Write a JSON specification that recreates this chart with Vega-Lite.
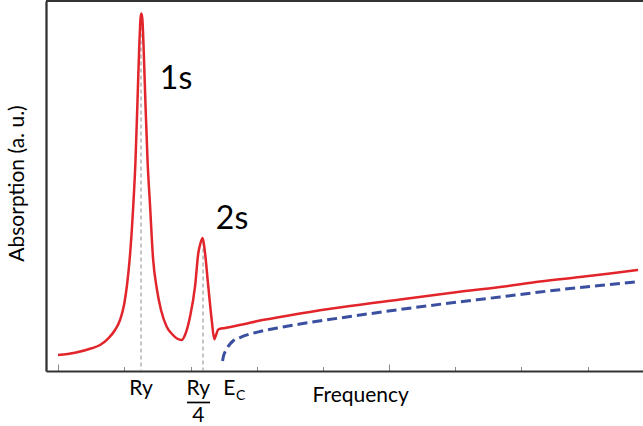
{
  "$schema": "https://vega.github.io/schema/vega-lite/v6.json",
  "width": 597,
  "height": 370,
  "autosize": {"type": "none"},
  "padding": {"left": 46, "top": 1, "right": 0, "bottom": 55},
  "background": "white",
  "config": {
    "view": {"stroke": null},
    "font": "Lato",
    "text": {"font": "Lato", "color": "black"}
  },
  "data": {"values": [{"level": 1}]},
  "datasets": {
    "absorption": [
      {"x": -0.0036, "y": 0.0432}, {"x": 0.2019, "y": 0.0495}, {"x": 0.4039, "y": 0.0614},
      {"x": 0.5042, "y": 0.0703}, {"x": 0.6046, "y": 0.0884}, {"x": 0.6856, "y": 0.1108},
      {"x": 0.7461, "y": 0.1378}, {"x": 0.7945, "y": 0.1784}, {"x": 0.8307, "y": 0.2324},
      {"x": 0.867, "y": 0.3135}, {"x": 0.9033, "y": 0.4351}, {"x": 0.9335, "y": 0.5703},
      {"x": 0.9577, "y": 0.7324}, {"x": 0.9794, "y": 0.8811}, {"x": 0.994, "y": 0.9524},
      {"x": 1.0036, "y": 0.9662}, {"x": 1.0157, "y": 0.9524}, {"x": 1.0302, "y": 0.8811},
      {"x": 1.052, "y": 0.7324}, {"x": 1.0786, "y": 0.5703}, {"x": 1.1088, "y": 0.4486},
      {"x": 1.1451, "y": 0.3054}, {"x": 1.1935, "y": 0.2189}, {"x": 1.2418, "y": 0.1649},
      {"x": 1.3108, "y": 0.1197}, {"x": 1.3748, "y": 0.1}, {"x": 1.4353, "y": 0.0878},
      {"x": 1.4921, "y": 0.0838}, {"x": 1.532, "y": 0.0973}, {"x": 1.5925, "y": 0.1468},
      {"x": 1.653, "y": 0.2278}, {"x": 1.6929, "y": 0.3189}, {"x": 1.7195, "y": 0.346},
      {"x": 1.7461, "y": 0.3595}, {"x": 1.7739, "y": 0.3189}, {"x": 1.8138, "y": 0.2278},
      {"x": 1.8549, "y": 0.1378}, {"x": 1.8863, "y": 0.0857}, {"x": 1.9069, "y": 0.0973},
      {"x": 1.9347, "y": 0.1127}, {"x": 2.0157, "y": 0.1162}, {"x": 2.1366, "y": 0.1216},
      {"x": 2.2576, "y": 0.127}, {"x": 2.4389, "y": 0.1365}, {"x": 2.6808, "y": 0.1459},
      {"x": 2.9226, "y": 0.1554}, {"x": 3.5272, "y": 0.1757}, {"x": 4.1318, "y": 0.1932},
      {"x": 4.7364, "y": 0.2108}, {"x": 5.341, "y": 0.227}, {"x": 5.8247, "y": 0.2419},
      {"x": 6.3083, "y": 0.2541}, {"x": 6.6711, "y": 0.2635}, {"x": 7.0097, "y": 0.273}
    ],
    "continuum": [
      {"x": 1.9855, "y": 0.027}, {"x": 1.9976, "y": 0.0405}, {"x": 2.0157, "y": 0.0514},
      {"x": 2.0399, "y": 0.0614}, {"x": 2.0762, "y": 0.073}, {"x": 2.1124, "y": 0.0811},
      {"x": 2.1971, "y": 0.0905}, {"x": 2.318, "y": 0.1}, {"x": 2.4389, "y": 0.1068},
      {"x": 2.6808, "y": 0.1176}, {"x": 2.9226, "y": 0.127}, {"x": 3.5272, "y": 0.1473},
      {"x": 4.1318, "y": 0.1662}, {"x": 4.7364, "y": 0.1838}, {"x": 5.341, "y": 0.2},
      {"x": 5.8247, "y": 0.2135}, {"x": 6.3083, "y": 0.2257}, {"x": 6.6711, "y": 0.2338},
      {"x": 7.0097, "y": 0.2414}
    ],
    "resonances": [
      {"x": 1, "base": 0, "top": 0.95},
      {"x": 1.75, "base": 0, "top": 0.35}
    ],
    "peakNames": [
      {"label": "1s", "x": 1.4232, "y": 0.7635},
      {"label": "2s", "x": 2.1004, "y": 0.3851}
    ],
    "energyNames": [
      {"label": "Ry", "x": 1.0, "y": -0.0649},
      {"label": "Ry", "x": 1.693, "y": -0.0649},
      {"label": "4", "x": 1.693, "y": -0.1365}
    ],
    "edgeName": [
      {"label": "E", "x": 1.995, "y": -0.0649}
    ],
    "edgeSub": [
      {"label": "C", "x": 2.1487, "y": -0.0784}
    ],
    "fractionBar": [
      {"x": 1.556, "x2": 1.834, "y": -0.0851}
    ]
  },
  "layer": [
    {
      "mark": {"type": "rule", "color": "#333333", "strokeWidth": 2},
      "encoding": {
        "y": {
          "field": "level",
          "type": "quantitative",
          "scale": {"domain": [0, 1], "nice": false, "zero": false},
          "axis": {
            "domain": true,
            "domainColor": "#333333",
            "domainWidth": 2.3,
            "ticks": false,
            "labels": false,
            "grid": false,
            "title": "Absorption (a. u.)",
            "titleFont": "Lato",
            "titleFontSize": 21,
            "titleFontWeight": "normal",
            "titleColor": "black",
            "titleBaseline": "alphabetic",
            "titleX": -23,
            "titleY": 182
          }
        }
      }
    },
    {
      "data": {"name": "resonances"},
      "mark": {"type": "rule", "color": "#8c8c8c", "strokeWidth": 1, "strokeDash": [4, 3]},
      "encoding": {
        "x": {
          "field": "x",
          "type": "quantitative",
          "scale": {"domain": [-0.149, 7.07], "nice": false, "zero": false},
          "axis": {
            "values": [0, 0.2, 0.4, 0.6, 0.8, 1, 1.2, 1.4, 1.6, 1.8, 2, 2.2, 2.4, 2.6, 2.8, 3, 3.2, 3.4, 3.6, 3.8, 4, 4.2, 4.4, 4.6, 4.8, 5, 5.2, 5.4, 5.6, 5.8, 6, 6.2, 6.4, 6.6, 6.8, 7],
            "domain": true,
            "domainColor": "#333333",
            "domainWidth": 2,
            "ticks": true,
            "tickColor": "#8a8a8a",
            "tickWidth": 1,
            "tickSize": {"condition": {"test": "datum.value % 1 === 0", "value": -7}, "value": -4.5},
            "labels": false,
            "grid": false,
            "title": "Frequency",
            "titleFont": "Lato",
            "titleFontSize": 21,
            "titleFontWeight": "normal",
            "titleColor": "black",
            "titleAnchor": "start",
            "titleAlign": "left",
            "titleBaseline": "alphabetic",
            "titleX": 266,
            "titleY": 30.7
          }
        },
        "y": {"field": "top", "type": "quantitative", "scale": {"domain": [0, 1], "nice": false, "zero": false}},
        "y2": {"field": "base"}
      }
    },
    {
      "data": {"name": "continuum"},
      "mark": {"type": "line", "color": "#3a4f9f", "strokeWidth": 3, "strokeDash": [10, 5], "interpolate": "monotone"},
      "encoding": {
        "x": {"field": "x", "type": "quantitative", "scale": {"domain": [-0.149, 7.07], "nice": false, "zero": false}},
        "y": {"field": "y", "type": "quantitative", "scale": {"domain": [0, 1], "nice": false, "zero": false}}
      }
    },
    {
      "data": {"name": "absorption"},
      "mark": {"type": "line", "color": "#e2242b", "strokeWidth": 2.5, "interpolate": "monotone"},
      "encoding": {
        "x": {"field": "x", "type": "quantitative", "scale": {"domain": [-0.149, 7.07], "nice": false, "zero": false}},
        "y": {"field": "y", "type": "quantitative", "scale": {"domain": [0, 1], "nice": false, "zero": false}}
      }
    },
    {
      "data": {"name": "peakNames"},
      "mark": {"type": "text", "fontSize": 32, "align": "center", "baseline": "alphabetic"},
      "encoding": {
        "x": {"field": "x", "type": "quantitative", "scale": {"domain": [-0.149, 7.07], "nice": false, "zero": false}},
        "y": {"field": "y", "type": "quantitative", "scale": {"domain": [0, 1], "nice": false, "zero": false}},
        "text": {"field": "label", "type": "nominal"}
      }
    },
    {
      "data": {"name": "energyNames"},
      "mark": {"type": "text", "fontSize": 21, "align": "center", "baseline": "alphabetic"},
      "encoding": {
        "x": {"field": "x", "type": "quantitative", "scale": {"domain": [-0.149, 7.07], "nice": false, "zero": false}},
        "y": {"field": "y", "type": "quantitative", "scale": {"domain": [0, 1], "nice": false, "zero": false}},
        "text": {"field": "label", "type": "nominal"}
      }
    },
    {
      "data": {"name": "edgeName"},
      "mark": {"type": "text", "fontSize": 21, "align": "left", "baseline": "alphabetic"},
      "encoding": {
        "x": {"field": "x", "type": "quantitative", "scale": {"domain": [-0.149, 7.07], "nice": false, "zero": false}},
        "y": {"field": "y", "type": "quantitative", "scale": {"domain": [0, 1], "nice": false, "zero": false}},
        "text": {"field": "label", "type": "nominal"}
      }
    },
    {
      "data": {"name": "edgeSub"},
      "mark": {"type": "text", "fontSize": 14, "align": "left", "baseline": "alphabetic"},
      "encoding": {
        "x": {"field": "x", "type": "quantitative", "scale": {"domain": [-0.149, 7.07], "nice": false, "zero": false}},
        "y": {"field": "y", "type": "quantitative", "scale": {"domain": [0, 1], "nice": false, "zero": false}},
        "text": {"field": "label", "type": "nominal"}
      }
    },
    {
      "data": {"name": "fractionBar"},
      "mark": {"type": "rule", "color": "black", "strokeWidth": 1.7},
      "encoding": {
        "x": {"field": "x", "type": "quantitative", "scale": {"domain": [-0.149, 7.07], "nice": false, "zero": false}},
        "x2": {"field": "x2"},
        "y": {"field": "y", "type": "quantitative", "scale": {"domain": [0, 1], "nice": false, "zero": false}}
      }
    }
  ]
}
